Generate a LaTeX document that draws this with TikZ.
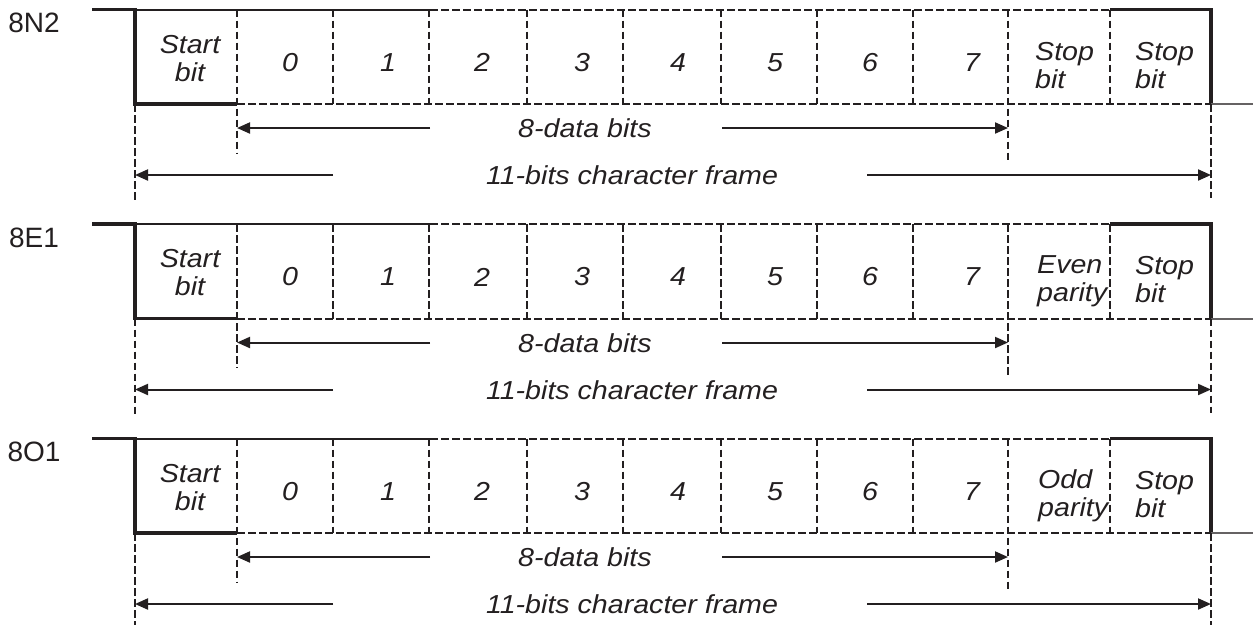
\documentclass[tikz,border=0pt]{standalone}
\usepackage{fontspec}
\setmainfont{Liberation Sans}
\newfontfamily\wideSans[FakeStretch=1.1]{Liberation Sans}
\usetikzlibrary{arrows.meta}
\definecolor{Ink}{HTML}{231F20}

\tikzset{
  sigline/.style={Ink,line width=3.4pt},
  sigthin/.style={Ink,line width=2pt},
  bitsep/.style={Ink,line width=2pt,dash pattern=on 7.5pt off 3.5pt},
  framearrow/.style={Ink,line width=2pt,-{Triangle[length=13pt,width=11pt]}},
  rowname/.style={font=\fontsize{28}{30}\selectfont,text=Ink,inner sep=0pt},
  celltext/.style={font=\wideSans\itshape\fontsize{26}{28}\selectfont,text=Ink,inner sep=0pt},
}

\begin{document}
\begin{tikzpicture}[x=1pt,y=-1pt]
\useasboundingbox (0,0) rectangle (1253,625);
% row 1: 8N2
\node[rowname] (n2) at (34,23) {8N2};
\draw[sigline] (92,9.5) -- (135,9.5) -- (135,104) -- (237,104);
\draw[sigline] (1110,9.5) -- (1211,9.5) -- (1211,104);
\draw[sigthin] (135,9.5) -- (430,9.5);
\draw[sigthin,Ink!70] (1211,104) -- (1253,104);
\draw[bitsep] (430,9.5) -- (1110,9.5);
\draw[bitsep] (237,104) -- (1211,104);
\draw[bitsep] (333,9.5) -- (333,104) (429,9.5) -- (429,104) (527,9.5) -- (527,104)
  (623,9.5) -- (623,104) (721,9.5) -- (721,104) (817,9.5) -- (817,104)
  (913,9.5) -- (913,104) (1110,9.5) -- (1110,104);
\draw[bitsep] (237,9.5) -- (237,153);
\draw[bitsep] (1008,9.5) -- (1008,163);
\draw[bitsep] (135,104) -- (135,200);
\draw[bitsep] (1211,104) -- (1211,198);
\node[celltext,align=center,anchor=north] (st2) at (190,35) {Start\\bit};
\node[celltext] (b0n2) at (290,62.5) {0};
\node[celltext] (b1n2) at (388,62.5) {1};
\node[celltext] (b2n2) at (482,62.5) {2};
\node[celltext] (b3n2) at (582,62.5) {3};
\node[celltext] (b4n2) at (678,62.5) {4};
\node[celltext] (b5n2) at (775,62.5) {5};
\node[celltext] (b6n2) at (870,62.5) {6};
\node[celltext] (b7n2) at (972,62.5) {7};
\node[celltext,align=left,anchor=north west] (pa2) at (1035,42) {Stop\\bit};
\node[celltext,align=left,anchor=north west] (sp2) at (1135,42) {Stop\\bit};
\node[celltext] (db2) at (585,128.5) {8-data bits};
\coordinate (db2w) at (430,128);
\coordinate (db2e) at (722,128);
\coordinate (db2l) at (237,128);
\coordinate (db2r) at (1008,128);
\draw[framearrow] (db2w) -- (db2l);
\draw[framearrow] (db2e) -- (db2r);
\node[celltext] (fr2) at (632,175.5) {11-bits character frame};
\coordinate (fr2w) at (333,175);
\coordinate (fr2e) at (867,175);
\coordinate (fr2l) at (135,175);
\coordinate (fr2r) at (1211,175);
\draw[framearrow] (fr2w) -- (fr2l);
\draw[framearrow] (fr2e) -- (fr2r);
% row 2: 8E1
\node[rowname] (e1) at (34,237.5) {8E1};
\draw[sigline] (92,224) -- (135,224) -- (135,318.5) -- (237,318.5);
\draw[sigline] (1110,224) -- (1211,224) -- (1211,318.5);
\draw[sigthin] (135,224) -- (430,224);
\draw[sigthin,Ink!70] (1211,318.5) -- (1253,318.5);
\draw[bitsep] (430,224) -- (1110,224);
\draw[bitsep] (237,318.5) -- (1211,318.5);
\draw[bitsep] (333,224) -- (333,318.5) (429,224) -- (429,318.5) (527,224) -- (527,318.5)
  (623,224) -- (623,318.5) (721,224) -- (721,318.5) (817,224) -- (817,318.5)
  (913,224) -- (913,318.5) (1110,224) -- (1110,318.5);
\draw[bitsep] (237,224) -- (237,367.5);
\draw[bitsep] (1008,224) -- (1008,377.5);
\draw[bitsep] (135,318.5) -- (135,414.5);
\draw[bitsep] (1211,318.5) -- (1211,412.5);
\node[celltext,align=center,anchor=north] (ste1) at (190,249.5) {Start\\bit};
\node[celltext] (b0e1) at (290,277) {0};
\node[celltext] (b1e1) at (388,277) {1};
\node[celltext] (b2e1) at (482,277) {2};
\node[celltext] (b3e1) at (582,277) {3};
\node[celltext] (b4e1) at (678,277) {4};
\node[celltext] (b5e1) at (775,277) {5};
\node[celltext] (b6e1) at (870,277) {6};
\node[celltext] (b7e1) at (972,277) {7};
\node[celltext,align=left,anchor=north west] (pae1) at (1037,255) {Even\\parity};
\node[celltext,align=left,anchor=north west] (spe1) at (1135,256.5) {Stop\\bit};
\node[celltext] (dbe1) at (585,343) {8-data bits};
\coordinate (dbe1w) at (430,342.5);
\coordinate (dbe1e) at (722,342.5);
\coordinate (dbe1l) at (237,342.5);
\coordinate (dbe1r) at (1008,342.5);
\draw[framearrow] (dbe1w) -- (dbe1l);
\draw[framearrow] (dbe1e) -- (dbe1r);
\node[celltext] (fre1) at (632,390) {11-bits character frame};
\coordinate (fre1w) at (333,389.5);
\coordinate (fre1e) at (867,389.5);
\coordinate (fre1l) at (135,389.5);
\coordinate (fre1r) at (1211,389.5);
\draw[framearrow] (fre1w) -- (fre1l);
\draw[framearrow] (fre1e) -- (fre1r);
% row 3: 8O1
\node[rowname] (o1) at (34,452) {8O1};
\draw[sigline] (92,438.5) -- (135,438.5) -- (135,533) -- (237,533);
\draw[sigline] (1110,438.5) -- (1211,438.5) -- (1211,533);
\draw[sigthin] (135,438.5) -- (430,438.5);
\draw[sigthin,Ink!70] (1211,533) -- (1253,533);
\draw[bitsep] (430,438.5) -- (1110,438.5);
\draw[bitsep] (237,533) -- (1211,533);
\draw[bitsep] (333,438.5) -- (333,533) (429,438.5) -- (429,533) (527,438.5) -- (527,533)
  (623,438.5) -- (623,533) (721,438.5) -- (721,533) (817,438.5) -- (817,533)
  (913,438.5) -- (913,533) (1110,438.5) -- (1110,533);
\draw[bitsep] (237,438.5) -- (237,582);
\draw[bitsep] (1008,438.5) -- (1008,592);
\draw[bitsep] (135,533) -- (135,625);
\draw[bitsep] (1211,533) -- (1211,625);
\node[celltext,align=center,anchor=north] (sto1) at (190,464) {Start\\bit};
\node[celltext] (b0o1) at (290,491.5) {0};
\node[celltext] (b1o1) at (388,491.5) {1};
\node[celltext] (b2o1) at (482,491.5) {2};
\node[celltext] (b3o1) at (582,491.5) {3};
\node[celltext] (b4o1) at (678,491.5) {4};
\node[celltext] (b5o1) at (775,491.5) {5};
\node[celltext] (b6o1) at (870,491.5) {6};
\node[celltext] (b7o1) at (972,491.5) {7};
\node[celltext,align=left,anchor=north west] (pao1) at (1038,469.5) {Odd\\parity};
\node[celltext,align=left,anchor=north west] (spo1) at (1135,471) {Stop\\bit};
\node[celltext] (dbo1) at (585,557.5) {8-data bits};
\coordinate (dbo1w) at (430,557);
\coordinate (dbo1e) at (722,557);
\coordinate (dbo1l) at (237,557);
\coordinate (dbo1r) at (1008,557);
\draw[framearrow] (dbo1w) -- (dbo1l);
\draw[framearrow] (dbo1e) -- (dbo1r);
\node[celltext] (fro1) at (632,604.5) {11-bits character frame};
\coordinate (fro1w) at (333,604);
\coordinate (fro1e) at (867,604);
\coordinate (fro1l) at (135,604);
\coordinate (fro1r) at (1211,604);
\draw[framearrow] (fro1w) -- (fro1l);
\draw[framearrow] (fro1e) -- (fro1r);
\end{tikzpicture}
\end{document}
